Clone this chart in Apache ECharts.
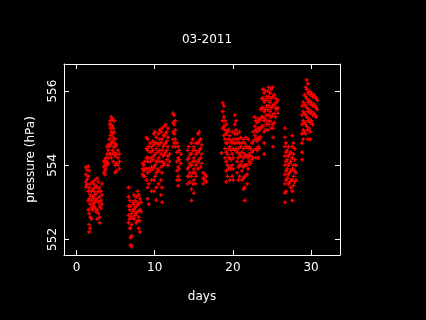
<!DOCTYPE html>
<html>
<head>
<meta charset="utf-8">
<script src="https://cdn.jsdelivr.net/npm/echarts@6/dist/echarts.min.js"></script>
<style>
  html, body { margin: 0; padding: 0; background: #000; }
  #chart { width: 426px; height: 320px; }
</style>
</head>
<body>
<div id="chart"></div>
<script>
// each row: [day, pressure readings around that time ...]
var week1 = [
	[1.2, 553.95, 553.75, 553.55, 553.42],
	[1.35, 553.88, 553.62, 553.48],
	[1.5, 553.97, 553.7, 553.3, 553.05, 552.8],
	[1.62, 553.85, 553.4, 553.1, 552.7, 552.4, 552.2],
	[1.75, 553.5, 553.2, 552.95, 552.6, 552.3],
	[1.9, 553.3, 553.05, 552.85, 552.55],
	[2.05, 553.55, 553.35, 553.15, 552.95, 552.8],
	[2.2, 553.5, 553.3, 553.1, 552.9],
	[2.35, 553.6, 553.4, 553.2, 553.0, 552.85],
	[2.5, 553.45, 553.25, 553.05, 552.75],
	[2.65, 553.65, 553.4, 553.1, 552.8, 552.55],
	[2.8, 553.55, 553.3, 553.0, 552.7],
	[2.95, 553.4, 553.15, 552.9, 552.6, 552.45],
	[3.1, 553.3, 553.05, 552.85],
	[3.25, 553.5, 553.2, 552.95],
	[3.5, 554.1, 553.95, 553.8],
	[3.62, 554.14, 554.0, 553.85, 553.75],
	[3.75, 554.2, 554.05, 553.9],
	[3.9, 554.5, 554.3, 554.1, 554.0],
	[4.05, 554.55, 554.4, 554.2, 554.05],
	[4.2, 555.1, 554.7, 554.5, 554.3],
	[4.33, 555.2, 555.0, 554.8, 554.55, 554.3],
	[4.45, 555.3, 555.1, 554.9, 554.6, 554.2],
	[4.58, 555.25, 555.05, 554.85, 554.65, 554.4],
	[4.7, 555.0, 554.75, 554.5, 554.3, 554.1],
	[4.82, 555.2, 554.9, 554.6, 554.35],
	[4.95, 554.7, 554.5, 554.25, 554.0, 553.8],
	[5.1, 554.55, 554.3, 554.05, 553.85],
	[5.3, 554.4, 554.2, 554.0],
	[5.5, 554.3, 554.1, 553.9],
	[6.65, 553.4, 553.15, 552.9, 552.65, 552.45],
	[6.8, 553.05, 552.8, 552.55, 552.3],
	[6.92, 552.9, 552.6, 552.3, 552.05, 551.85],
	[7.05, 552.7, 552.4, 552.1, 551.8],
	[7.2, 553.0, 552.8, 552.6],
	[7.35, 553.2, 552.95, 552.75, 552.55],
	[7.5, 553.05, 552.85, 552.65],
	[7.65, 553.15, 552.9, 552.7, 552.45],
	[7.8, 553.3, 553.0, 552.75, 552.5],
	[7.95, 553.2, 552.95, 552.6, 552.3],
	[8.1, 553.1, 552.8, 552.5, 552.2],
	[8.25, 553.0, 552.75]
];
var week2 = [
	[8.45, 554.05, 553.9, 553.75],
	[8.6, 554.0, 553.85, 553.7],
	[8.75, 554.1, 553.9, 553.7],
	[8.95, 554.75, 554.45, 554.2, 553.9, 553.6],
	[9.1, 554.7, 554.4, 554.1, 553.8, 553.4, 553.1],
	[9.25, 554.5, 554.2, 553.9, 553.5, 552.95],
	[9.45, 554.6, 554.35, 554.1, 553.85],
	[9.6, 554.5, 554.2, 553.95, 553.6, 553.3],
	[9.75, 554.65, 554.4, 554.15, 553.9],
	[9.9, 554.85, 554.55, 554.25, 553.95, 553.6, 553.3],
	[10.05, 554.9, 554.6, 554.3, 554.0, 553.7],
	[10.2, 554.75, 554.45, 554.1, 553.8, 553.4, 553.06],
	[10.35, 554.6, 554.35, 554.1, 553.9],
	[10.5, 554.85, 554.55, 554.2, 553.85, 553.5],
	[10.65, 554.95, 554.7, 554.4, 554.1],
	[10.8, 554.9, 554.6, 554.3, 553.95, 553.6, 553.2],
	[10.95, 555.0, 554.7, 554.4, 554.1, 553.8, 553.4, 553.0],
	[11.1, 554.8, 554.5, 554.25, 554.0],
	[11.25, 555.05, 554.8, 554.55, 554.3, 554.05],
	[11.4, 555.1, 554.85, 554.6, 554.35],
	[11.55, 554.9, 554.65, 554.4, 554.15],
	[11.7, 555.0, 554.75, 554.5, 554.25, 554.0],
	[11.9, 554.3, 554.1],
	[12.35, 555.4, 555.15, 554.9, 554.7, 554.5],
	[12.5, 555.35, 555.1, 554.85, 554.6],
	[12.65, 555.2, 554.95, 554.7, 554.5],
	[12.85, 554.6, 554.35, 554.1, 553.85, 553.6],
	[13.0, 554.5, 554.2, 553.95, 553.7, 553.45],
	[13.15, 554.4, 554.15, 553.9, 553.6],
	[13.35, 554.3, 554.05],
	[14.2, 554.4, 554.15, 553.9, 553.7, 553.5],
	[14.35, 554.5, 554.2, 553.95, 553.7],
	[14.5, 554.3, 554.05, 553.8, 553.55],
	[14.7, 554.6, 554.3, 554.0, 553.7, 553.35, 553.05],
	[14.85, 554.7, 554.4, 554.1, 553.8, 553.5],
	[15.0, 554.5, 554.2, 553.9, 553.6, 553.25],
	[15.15, 554.4, 554.1, 553.8, 553.5],
	[15.3, 554.6, 554.3, 554.0, 553.7],
	[15.55, 554.85, 554.6, 554.35, 554.1, 553.9],
	[15.7, 554.9, 554.65, 554.4, 554.15],
	[15.85, 554.7, 554.45, 554.2, 553.95],
	[16.0, 554.55, 554.3, 554.05],
	[16.2, 553.8, 553.65, 553.5],
	[16.4, 553.75, 553.6],
	[16.6, 553.7, 553.55]
];
var week3 = [
	[18.55, 554.33],
	[18.7, 555.68, 555.45, 555.2, 555.0],
	[18.85, 555.6, 555.3, 555.05, 554.8],
	[19.0, 555.2, 554.95, 554.7, 554.45, 554.2],
	[19.15, 555.1, 554.85, 554.6, 554.35, 554.1, 553.85, 553.55],
	[19.3, 554.9, 554.6, 554.3, 554.0, 553.7],
	[19.45, 554.95, 554.7, 554.45, 554.2, 553.9],
	[19.6, 554.8, 554.5, 554.2, 553.95, 553.6],
	[19.75, 554.65, 554.4, 554.15, 553.9],
	[19.9, 554.9, 554.6, 554.3, 554.0, 553.7],
	[20.05, 554.7, 554.45, 554.2, 553.9, 553.6],
	[20.25, 555.35, 555.1, 554.85, 554.6, 554.4],
	[20.4, 555.2, 554.95, 554.7, 554.45],
	[20.55, 554.85, 554.6, 554.35, 554.1, 553.8],
	[20.7, 554.7, 554.45, 554.2, 553.95, 553.6],
	[20.85, 554.9, 554.6, 554.3, 554.0, 553.7],
	[21.0, 554.75, 554.5, 554.25, 554.0],
	[21.15, 554.6, 554.35, 554.1, 553.85, 553.6],
	[21.35, 554.7, 554.45, 554.2, 553.95, 553.65, 553.35],
	[21.5, 554.6, 554.3, 554.0, 553.7, 553.4, 553.05],
	[21.65, 554.75, 554.5, 554.25, 554.0],
	[21.8, 554.5, 554.25, 554.0, 553.75, 553.5],
	[21.95, 554.7, 554.45, 554.2, 553.9],
	[22.1, 554.5, 554.3, 554.1],
	[22.25, 554.45, 554.25, 554.05],
	[22.45, 554.6, 554.35, 554.15],
	[22.6, 554.9, 554.65, 554.4, 554.2],
	[22.8, 555.3, 555.05, 554.8],
	[22.95, 555.2, 554.95, 554.7, 554.45, 554.2],
	[23.1, 555.15, 554.9, 554.65, 554.4],
	[23.25, 555.25, 555.0, 554.75, 554.5, 554.2],
	[23.4, 555.2, 554.95, 554.7, 554.45]
];
var week4 = [
	[23.55, 555.5, 555.25, 555.0, 554.75],
	[23.7, 555.8, 555.55, 555.3, 555.05],
	[23.85, 556.05, 555.8, 555.55, 555.3, 555.05],
	[24.0, 555.95, 555.7, 555.45, 555.2, 554.9, 554.6, 554.3],
	[24.15, 556.0, 555.75, 555.5, 555.25, 554.95],
	[24.3, 555.85, 555.6, 555.35, 555.1],
	[24.45, 556.0, 555.75, 555.5, 555.2, 554.95],
	[24.6, 556.1, 555.85, 555.6, 555.35, 555.1],
	[24.75, 555.95, 555.7, 555.45, 555.2],
	[24.9, 556.05, 555.8, 555.55, 555.3, 555.0],
	[25.05, 556.1, 555.85, 555.6, 555.35, 555.1],
	[25.15, 555.0, 554.75, 554.5],
	[25.3, 555.9, 555.65, 555.4, 555.15],
	[25.45, 555.8, 555.55, 555.3],
	[25.6, 555.7, 555.5],
	[25.75, 555.75, 555.55, 555.4],
	[26.65, 555.0, 554.75, 554.5, 554.25, 554.0, 553.75, 553.5, 553.25, 553.0],
	[26.8, 554.6, 554.35, 554.1, 553.85, 553.6, 553.3],
	[26.95, 554.4, 554.15, 553.9, 553.65],
	[27.1, 554.5, 554.25, 554.0, 553.75, 553.5],
	[27.25, 554.3, 554.05, 553.8, 553.55],
	[27.4, 554.35, 554.1, 553.85, 553.6, 553.4],
	[27.6, 554.8, 554.5, 554.2, 553.9, 553.6, 553.3, 553.05],
	[27.75, 554.6, 554.3, 554.0, 553.7, 553.45],
	[27.9, 554.45, 554.15, 553.85, 553.55],
	[28.05, 554.0, 553.8, 553.6],
	[28.85, 555.6, 555.35, 555.1, 554.85, 554.6, 554.35, 554.15],
	[29.0, 555.7, 555.45, 555.2, 554.95, 554.7],
	[29.15, 555.9, 555.65, 555.4, 555.15, 554.9],
	[29.3, 556.1, 555.85, 555.6, 555.35, 555.1, 554.85],
	[29.45, 556.3, 556.05, 555.8, 555.55, 555.3, 555.05],
	[29.6, 556.2, 555.95, 555.7, 555.45, 555.2, 554.95, 554.7],
	[29.75, 556.0, 555.75, 555.5, 555.25, 555.0],
	[29.9, 555.9, 555.65, 555.4, 555.15, 554.9, 554.7],
	[30.05, 555.95, 555.7, 555.45, 555.2],
	[30.2, 555.85, 555.6, 555.35, 555.1],
	[30.35, 555.9, 555.65, 555.4],
	[30.5, 555.85, 555.6, 555.35],
	[30.65, 555.8, 555.55, 555.3],
	[30.8, 555.75, 555.5]
];

var dayTicks = [0, 10, 20, 30];
var pressTicks = [552, 554, 556];

var points = [];
[week1, week2, week3, week4].forEach(function (rows) {
	rows.forEach(function (row) {
		for (var i = 1; i < row.length; i++) {
			points.push([row[0], row[i]]);
		}
	});
});

var chart = echarts.init(document.getElementById('chart'));
var font = 'DejaVu Sans';
var white = '#ffffff';

function xAx(pos, labels) {
	return {
		type: 'value', position: pos, min: -1.6, max: 33.7,
		name: labels ? 'days' : '', nameLocation: 'middle', nameGap: 36,
		nameTextStyle: { color: white, fontSize: 12, fontFamily: font },
		splitLine: { show: false },
		axisLine: { show: true, onZero: false, lineStyle: { color: white, width: 1 } },
		axisTick: { show: true, inside: true, length: 5, customValues: dayTicks, lineStyle: { color: white } },
		axisLabel: { show: labels, customValues: dayTicks, color: white, fontSize: 12, fontFamily: font, margin: 7 }
	};
}
function yAx(pos, labels) {
	return {
		type: 'value', position: pos, min: 551.58, max: 556.73,
		name: labels ? 'pressure (hPa)' : '', nameLocation: 'middle', nameGap: 27,
		nameTextStyle: { color: white, fontSize: 12, fontFamily: font },
		splitLine: { show: false },
		axisLine: { show: true, onZero: false, lineStyle: { color: white, width: 1 } },
		axisTick: { show: true, inside: true, length: 5, customValues: pressTicks, lineStyle: { color: white } },
		// labels are drawn rotated below
		axisLabel: { show: false }
	};
}

chart.setOption({
	backgroundColor: '#000000',
	animation: false,
	title: {
		text: '03-2011', left: 202, top: 29, textAlign: 'center',
		textStyle: { color: white, fontSize: 12, fontWeight: 'normal', fontFamily: font }
	},
	grid: { left: 64, right: 86, top: 64, bottom: 65 },
	xAxis: [xAx('bottom', true), xAx('top', false)],
	yAxis: [yAx('left', true), yAx('right', false)],
	series: [{
		type: 'scatter',
		data: points,
		symbol: 'path://M1 0h1v1h1v1h-1v1h-1v-1h-1v-1h1z',
		symbolSize: 4,
		itemStyle: { color: '#ff0000', opacity: 1 }
	}]
});

// vertical tick labels for the pressure axis, placed with the axis scale
var x0 = chart.convertToPixel({ xAxisIndex: 0 }, -1.6);
chart.setOption({
	graphic: pressTicks.map(function (v) {
		return {
			type: 'text',
			x: x0 - 11.5,
			y: chart.convertToPixel({ yAxisIndex: 0 }, v),
			rotation: Math.PI / 2,
			style: {
				text: String(v), fill: white, font: '12px "DejaVu Sans"',
				align: 'center', verticalAlign: 'middle'
			}
		};
	})
});
</script>
</body>
</html>
